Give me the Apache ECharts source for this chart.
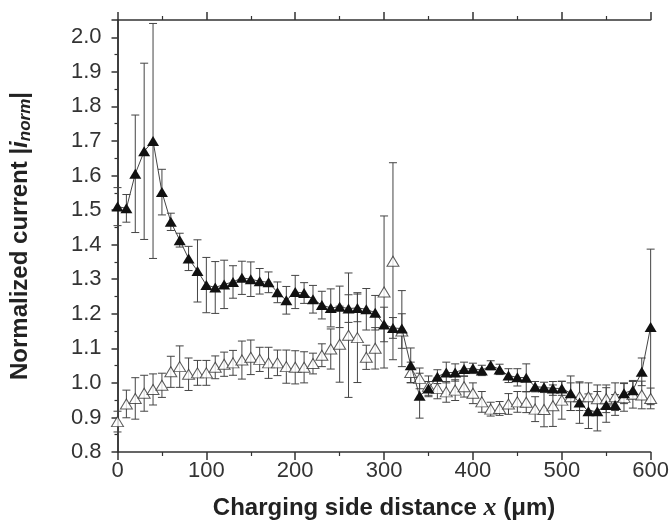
<!DOCTYPE html>
<html>
<head>
<meta charset="utf-8">
<script src="https://cdn.jsdelivr.net/npm/echarts@6/dist/echarts.min.js"></script>
<style>html,body{margin:0;padding:0;background:#fff}#c{width:672px;height:530px}</style>
</head>
<body>
<div id="c"></div>
<script>
// x positions (µm)
var xs = [0,10,20,30,40,50,60,70,80,90,100,110,120,130,140,150,160,170,180,190,200,210,220,230,240,250,260,270,280,290,300,310,320,330,340,350,360,370,380,390,400,410,420,430,440,450,460,470,480,490,500,510,520,530,540,550,560,570,580,590,600];
// filled triangles
var filledVals = [1.51,1.505,1.605,1.67,1.70,1.552,1.466,1.413,1.36,1.324,1.283,1.276,1.285,1.292,1.304,1.30,1.294,1.291,1.262,1.239,1.263,1.26,1.242,1.225,1.217,1.22,1.215,1.217,1.213,1.203,1.169,1.159,1.157,1.051,0.963,0.984,1.018,1.03,1.03,1.04,1.042,1.036,1.051,1.039,1.021,1.016,1.015,0.989,0.987,0.984,0.984,0.97,0.943,0.918,0.918,0.936,0.936,0.97,0.979,1.032,1.162];
var filledErr = [0.055,0.04,0.17,0.255,0.34,0.066,0.025,0.02,0.035,0.09,0.08,0.075,0.07,0.047,0.048,0.05,0.037,0.03,0.03,0.04,0.048,0.03,0.04,0.04,0.055,0.06,0.04,0.04,0.06,0.05,0.05,0.03,0.11,0.05,0.065,0.02,0.02,0.03,0.025,0.02,0.015,0.015,0.013,0.015,0.02,0.025,0.04,0.015,0.015,0.02,0.02,0.05,0.06,0.05,0.057,0.05,0.03,0.03,0.025,0.04,0.225];
// open triangles
var openVals = [0.888,0.939,0.955,0.97,0.981,0.993,1.032,1.047,1.025,1.029,1.029,1.045,1.054,1.058,1.066,1.074,1.068,1.058,1.058,1.047,1.045,1.045,1.056,1.08,1.098,1.112,1.138,1.131,1.074,1.10,1.263,1.352,1.15,1.03,1.013,0.99,0.984,0.974,0.979,0.989,0.97,0.945,0.924,0.926,0.939,0.945,0.944,0.924,0.923,0.934,0.95,0.96,0.96,0.96,0.954,0.954,0.96,0.958,0.967,0.965,0.955];
var openErr = [0.03,0.04,0.06,0.052,0.045,0.035,0.045,0.06,0.047,0.036,0.036,0.033,0.035,0.036,0.055,0.05,0.035,0.045,0.037,0.048,0.048,0.045,0.03,0.033,0.058,0.11,0.18,0.13,0.035,0.06,0.22,0.285,0.05,0.03,0.03,0.03,0.03,0.03,0.03,0.03,0.03,0.03,0.02,0.02,0.03,0.03,0.03,0.036,0.05,0.06,0.055,0.04,0.04,0.04,0.04,0.04,0.04,0.04,0.04,0.04,0.03];
var xTicks = [0,100,200,300,400,500,600];
var yTicks = ['0.8','0.9','1.0','1.1','1.2','1.3','1.4','1.5','1.6','1.7','1.8','1.9','2.0'];

function pts(v){ return xs.map(function(x,i){ return [x, v[i]]; }); }
function errs(v,e){ return xs.map(function(x,i){ return [x, v[i]-e[i], v[i]+e[i]]; }); }

function renderErr(params, api){
  var x = api.value(0);
  var lo = api.coord([x, api.value(1)]);
  var hi = api.coord([x, api.value(2)]);
  var w = 4;
  var st = {stroke:'#444', lineWidth:1, fill:null};
  return {type:'group', children:[
    {type:'line', shape:{x1:hi[0],y1:hi[1],x2:lo[0],y2:lo[1]}, style:st},
    {type:'line', shape:{x1:hi[0]-w,y1:hi[1],x2:hi[0]+w,y2:hi[1]}, style:st},
    {type:'line', shape:{x1:lo[0]-w,y1:lo[1],x2:lo[0]+w,y2:lo[1]}, style:st}
  ]};
}

var chart = echarts.init(document.getElementById('c'));
var font = 'Liberation Sans, Arial, Helvetica, sans-serif';
chart.setOption({
  animation:false,
  backgroundColor:'#fff',
  grid:{left:115, right:21, top:20, bottom:78},
  xAxis:[{
    type:'value', min:0, max:600, interval:100, position:'bottom',
    name:'Charging side distance {it|x} (\u03bcm)', nameLocation:'middle', nameGap:43,
    nameTextStyle:{fontFamily:font, fontWeight:'bold', fontSize:24, color:'#222',
      rich:{it:{fontFamily:'Liberation Serif, Times New Roman, serif', fontStyle:'italic', fontWeight:'bold', fontSize:26, color:'#222'}}},
    axisLine:{lineStyle:{color:'#333', width:1.5}},
    axisTick:{length:8, inside:false, lineStyle:{color:'#333', width:1.5}},
    minorTick:{show:true, splitNumber:2, length:4, lineStyle:{color:'#333', width:1.2}},
    axisLabel:{fontFamily:font, fontSize:22, color:'#333', margin:8,
      formatter:function(v){ return xTicks.indexOf(v)>=0 ? String(v) : ''; }},
    splitLine:{show:false}
  },{
    type:'value', min:0, max:600, interval:100, position:'top',
    axisLine:{lineStyle:{color:'#333', width:1.5}},
    axisTick:{length:8, inside:false, lineStyle:{color:'#333', width:1.5}},
    minorTick:{show:true, splitNumber:2, length:4, lineStyle:{color:'#333', width:1.2}},
    axisLabel:{show:false}, splitLine:{show:false}
  }],
  yAxis:[{
    type:'value', min:0.8, max:2.05, interval:0.1, position:'left',
    name:'Normalized current |{it|i}{sub|norm}|', nameLocation:'middle', nameGap:84,
    nameTextStyle:{fontFamily:font, fontWeight:'bold', fontSize:24, color:'#222',
      rich:{it:{fontFamily:font, fontStyle:'italic', fontWeight:'bold', fontSize:24, color:'#222'},
            sub:{fontFamily:font, fontStyle:'italic', fontWeight:'bold', fontSize:17, color:'#222', padding:[10,0,0,0]}}},
    axisLine:{lineStyle:{color:'#333', width:1.5}},
    axisTick:{length:6, inside:false, lineStyle:{color:'#333', width:1.5}},
    minorTick:{show:true, splitNumber:2, length:3, lineStyle:{color:'#333', width:1.2}},
    axisLabel:{fontFamily:font, fontSize:22, color:'#333', margin:16, showMaxLabel:false,
      formatter:function(v){ var s=v.toFixed(1); return (yTicks.indexOf(s)>=0 && Math.abs(v-parseFloat(s))<1e-6) ? s : ''; }},
    splitLine:{show:false}
  },{
    type:'value', min:0.8, max:2.05, position:'right',
    axisLine:{show:true, lineStyle:{color:'#333', width:1.5}},
    axisTick:{show:false}, axisLabel:{show:false}, splitLine:{show:false}
  }],
  series:[
    {type:'custom', renderItem:renderErr, data:errs(filledVals, filledErr), z:1, silent:true},
    {type:'custom', renderItem:renderErr, data:errs(openVals, openErr), z:1, silent:true},
    {type:'scatter', data:pts(openVals), symbol:'triangle', symbolSize:[12,10], z:3,
      itemStyle:{color:'#fff', borderColor:'#333', borderWidth:1}},
    {type:'line', data:pts(filledVals), symbol:'triangle', symbolSize:[12,10], z:4, showAllSymbol:true,
      lineStyle:{color:'#444', width:1}, itemStyle:{color:'#111', borderColor:'#111', borderWidth:0}}
  ]
});
</script>
</body>
</html>
